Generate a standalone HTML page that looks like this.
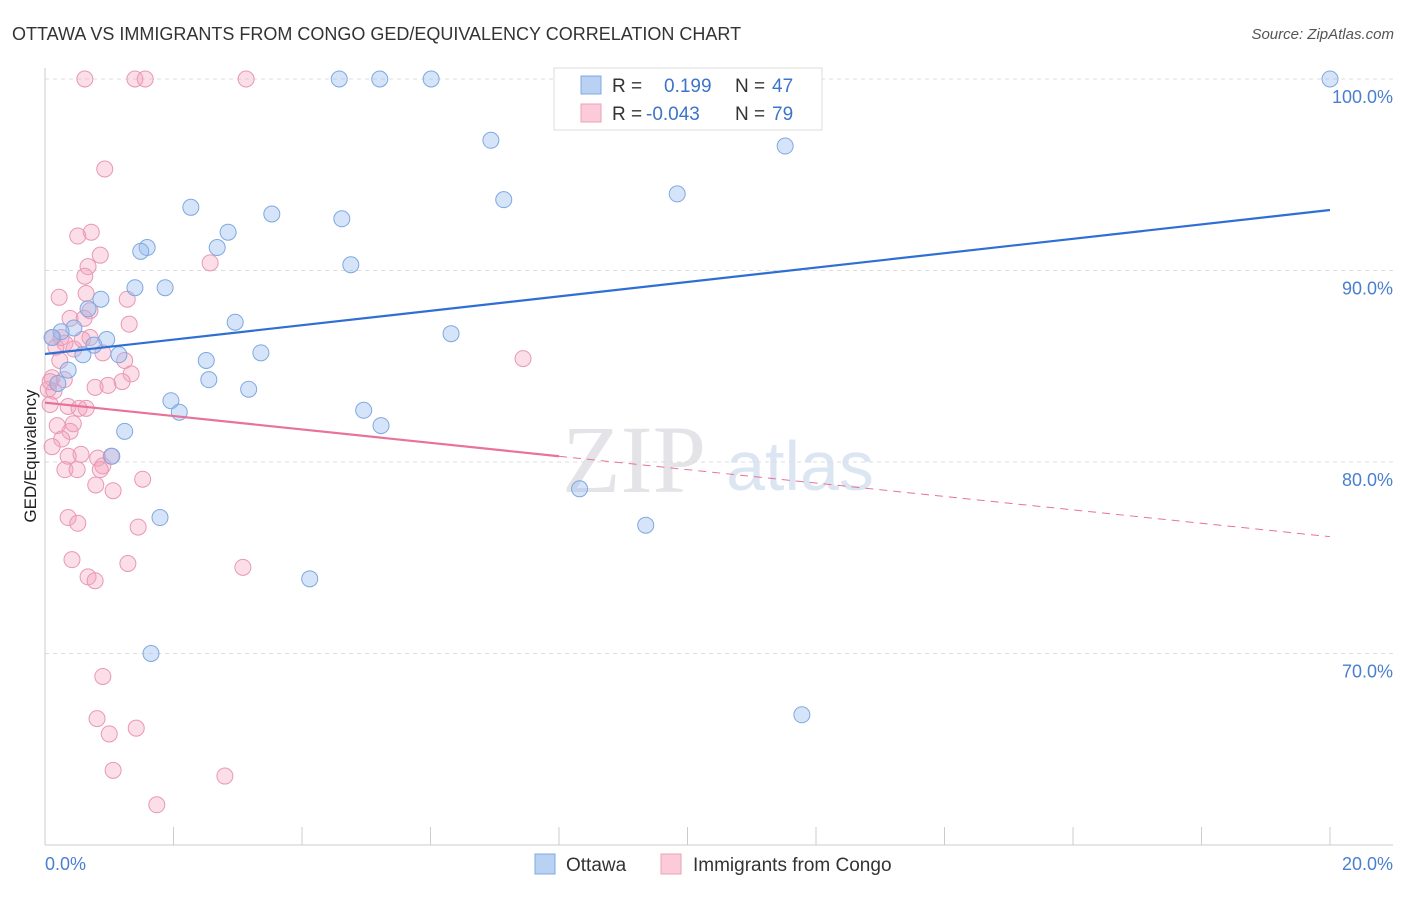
<!DOCTYPE html>
<html><head><meta charset="utf-8"><style>
body{margin:0;background:#fff;font-family:"Liberation Sans",sans-serif}
</style></head><body>
<svg width="1406" height="892" xmlns="http://www.w3.org/2000/svg" id="chart" font-family="Liberation Sans, sans-serif">
<text x="12" y="40" font-size="18" fill="#333">OTTAWA VS IMMIGRANTS FROM CONGO GED/EQUIVALENCY CORRELATION CHART</text>
<text x="1394" y="39" font-size="15" fill="#555" text-anchor="end" font-style="italic">Source: ZipAtlas.com</text>
<text x="634" y="492" font-size="96" fill="#e4e4e8" text-anchor="middle" font-family="Liberation Serif, serif">ZIP</text>
<text x="800" y="490" font-size="70" fill="#dce6f3" text-anchor="middle">atlas</text>
<g id="grid"></g><g id="axes"></g><g id="marks"></g><g id="trends"></g>
<text x="36" y="456" font-size="17" fill="#222" text-anchor="middle" transform="rotate(-90 36 456)">GED/Equivalency</text>
<text x="45" y="870" font-size="18" fill="#4a7fd0">0.0%</text>
<text x="1393" y="870" font-size="18" fill="#4a7fd0" text-anchor="end">20.0%</text>
<g>
<rect x="554" y="68" width="268" height="62" fill="#fff" stroke="#ddd"/>
<rect x="581" y="76" width="20" height="18" fill="#b9d2f4" stroke="#7fa8e0"/>
<rect x="581" y="104" width="20" height="18" fill="#fbcbd9" stroke="#eba0b8"/>
<text x="612" y="92" font-size="19" fill="#333">R = </text><text x="664" y="92" font-size="19" fill="#3d74c9">0.199</text>
<text x="735" y="92" font-size="19" fill="#333">N = </text><text x="772" y="92" font-size="19" fill="#3d74c9">47</text>
<text x="612" y="120" font-size="19" fill="#333">R = </text><text x="646" y="120" font-size="19" fill="#3d74c9">-0.043</text>
<text x="735" y="120" font-size="19" fill="#333">N = </text><text x="772" y="120" font-size="19" fill="#3d74c9">79</text>
</g>
<g>
<rect x="535" y="854" width="20" height="20" fill="#b9d2f4" stroke="#7fa8e0"/>
<text x="566" y="871" font-size="19" fill="#333">Ottawa</text>
<rect x="661" y="854" width="20" height="20" fill="#fbcbd9" stroke="#eba0b8"/>
<text x="693" y="871" font-size="19" fill="#333">Immigrants from Congo</text>
</g>
</svg>
<script>
const yTicks=[100,90,80,70];
const yTickLabels=["100.0%","90.0%","80.0%","70.0%"];
const xTicks=[0,2,4,6,8,10,12,14,16,18,20];
const ottawaX=[20.0,4.58,5.21,6.01,6.94,11.52,7.14,9.84,2.27,3.53,4.62,2.85,1.59,2.68,1.49,4.76,1.40,1.87,0.87,0.67,2.96,6.32,0.45,0.25,0.96,0.76,0.59,3.36,1.15,2.51,0.36,2.55,3.17,0.20,1.96,2.09,4.96,5.23,1.24,1.04,8.32,1.79,9.35,4.12,1.65,11.78,0.11];
const ottawaY=[100,100,100,100,96.8,96.5,93.7,94.0,93.3,92.95,92.7,92.0,91.2,91.2,91.0,90.3,89.1,89.1,88.5,88.0,87.3,86.7,87.0,86.8,86.4,86.1,85.6,85.7,85.6,85.3,84.8,84.3,83.8,84.1,83.2,82.6,82.7,81.9,81.6,80.3,78.6,77.1,76.7,73.9,70.0,66.8,86.5];
const congoX=[0.62,1.40,1.56,3.13,0.93,0.72,0.51,0.86,2.57,0.67,0.62,0.22,1.28,0.64,0.70,0.39,0.61,1.31,0.12,0.31,0.70,0.45,0.90,0.23,1.24,1.34,0.11,0.30,1.20,0.78,0.98,0.05,0.14,0.08,0.36,0.53,0.64,0.19,0.44,0.39,0.26,0.11,0.56,0.82,1.03,0.36,0.31,0.50,0.90,0.86,0.79,1.06,1.52,0.36,0.51,1.45,0.42,1.29,3.08,0.67,0.78,7.44,0.90,0.81,1.00,1.42,1.06,2.80,1.74,0.08,0.17,0.25,0.58];
const congoY=[100,100,100,100,95.3,92.0,91.8,90.8,90.4,90.2,89.7,88.6,88.5,88.8,87.9,87.5,87.5,87.2,86.5,86.2,86.5,85.9,85.7,85.3,85.3,84.6,84.4,84.3,84.2,83.9,84.0,83.8,83.7,83.0,82.9,82.8,82.8,81.9,82.0,81.6,81.2,80.8,80.4,80.2,80.3,80.3,79.6,79.6,79.8,79.6,78.8,78.5,79.1,77.1,76.8,76.6,74.9,74.7,74.5,74.0,73.8,85.4,68.8,66.6,65.8,66.1,63.9,63.6,62.1,84.2,86.0,86.5,86.4];
const ottawaTrend=[85.64,93.16];
const congoTrend=[83.1,80.3,76.1];
const congoTrendX=[0,8,20];
const NS="http://www.w3.org/2000/svg";
const xs=v=>45+v*64.25;
const ys=v=>79+(100-v)*19.15;
function mk(t,a,p){const e=document.createElementNS(NS,t);for(const k in a)e.setAttribute(k,a[k]);document.getElementById(p).appendChild(e);return e;}
yTicks.forEach((t,i)=>{
 const l=mk('line',{x1:45,x2:1393,y1:ys(t),y2:ys(t),stroke:'#ddd','stroke-dasharray':'4,4'},'grid');
 
 
 const tx=mk('text',{x:1393,y:ys(t)+24,'font-size':18,fill:'#4a7fd0','text-anchor':'end'},'grid');
 tx.textContent=yTickLabels[i];
 
 
});
const ax=mk('line',{x1:45,x2:45,y1:68,y2:845,stroke:'#ccc'},'axes');


const bx=mk('line',{x1:45,x2:1393,y1:845,y2:845,stroke:'#ccc'},'axes');


xTicks.forEach(t=>{
 const l=mk('line',{x1:xs(t),x2:xs(t),y1:827,y2:845,stroke:'#ccc'},'axes');
 
 
});
congoX.forEach((x,i)=>{
 const c=mk('circle',{cx:xs(x),cy:ys(congoY[i]),r:8,fill:'rgba(244,160,188,0.35)',stroke:'#e898b4','stroke-width':1},'marks');
 
 
});
ottawaX.forEach((x,i)=>{
 const c=mk('circle',{cx:xs(x),cy:ys(ottawaY[i]),r:8,fill:'rgba(150,188,238,0.4)',stroke:'#7fa8e0','stroke-width':1},'marks');
 
 
});
const bt=mk('line',{x1:xs(0),y1:ys(ottawaTrend[0]),x2:xs(20),y2:ys(ottawaTrend[1]),stroke:'#2f6fd4','stroke-width':2.2},'trends');


const pt=mk('line',{x1:xs(congoTrendX[0]),y1:ys(congoTrend[0]),x2:xs(congoTrendX[1]),y2:ys(congoTrend[1]),stroke:'#e8729a','stroke-width':2.2},'trends');


const pd=mk('line',{x1:xs(congoTrendX[1]),y1:ys(congoTrend[1]),x2:xs(congoTrendX[2]),y2:ys(congoTrend[2]),stroke:'#e8729a','stroke-width':1,'stroke-dasharray':'8,6'},'trends');


</script>
</body></html>
